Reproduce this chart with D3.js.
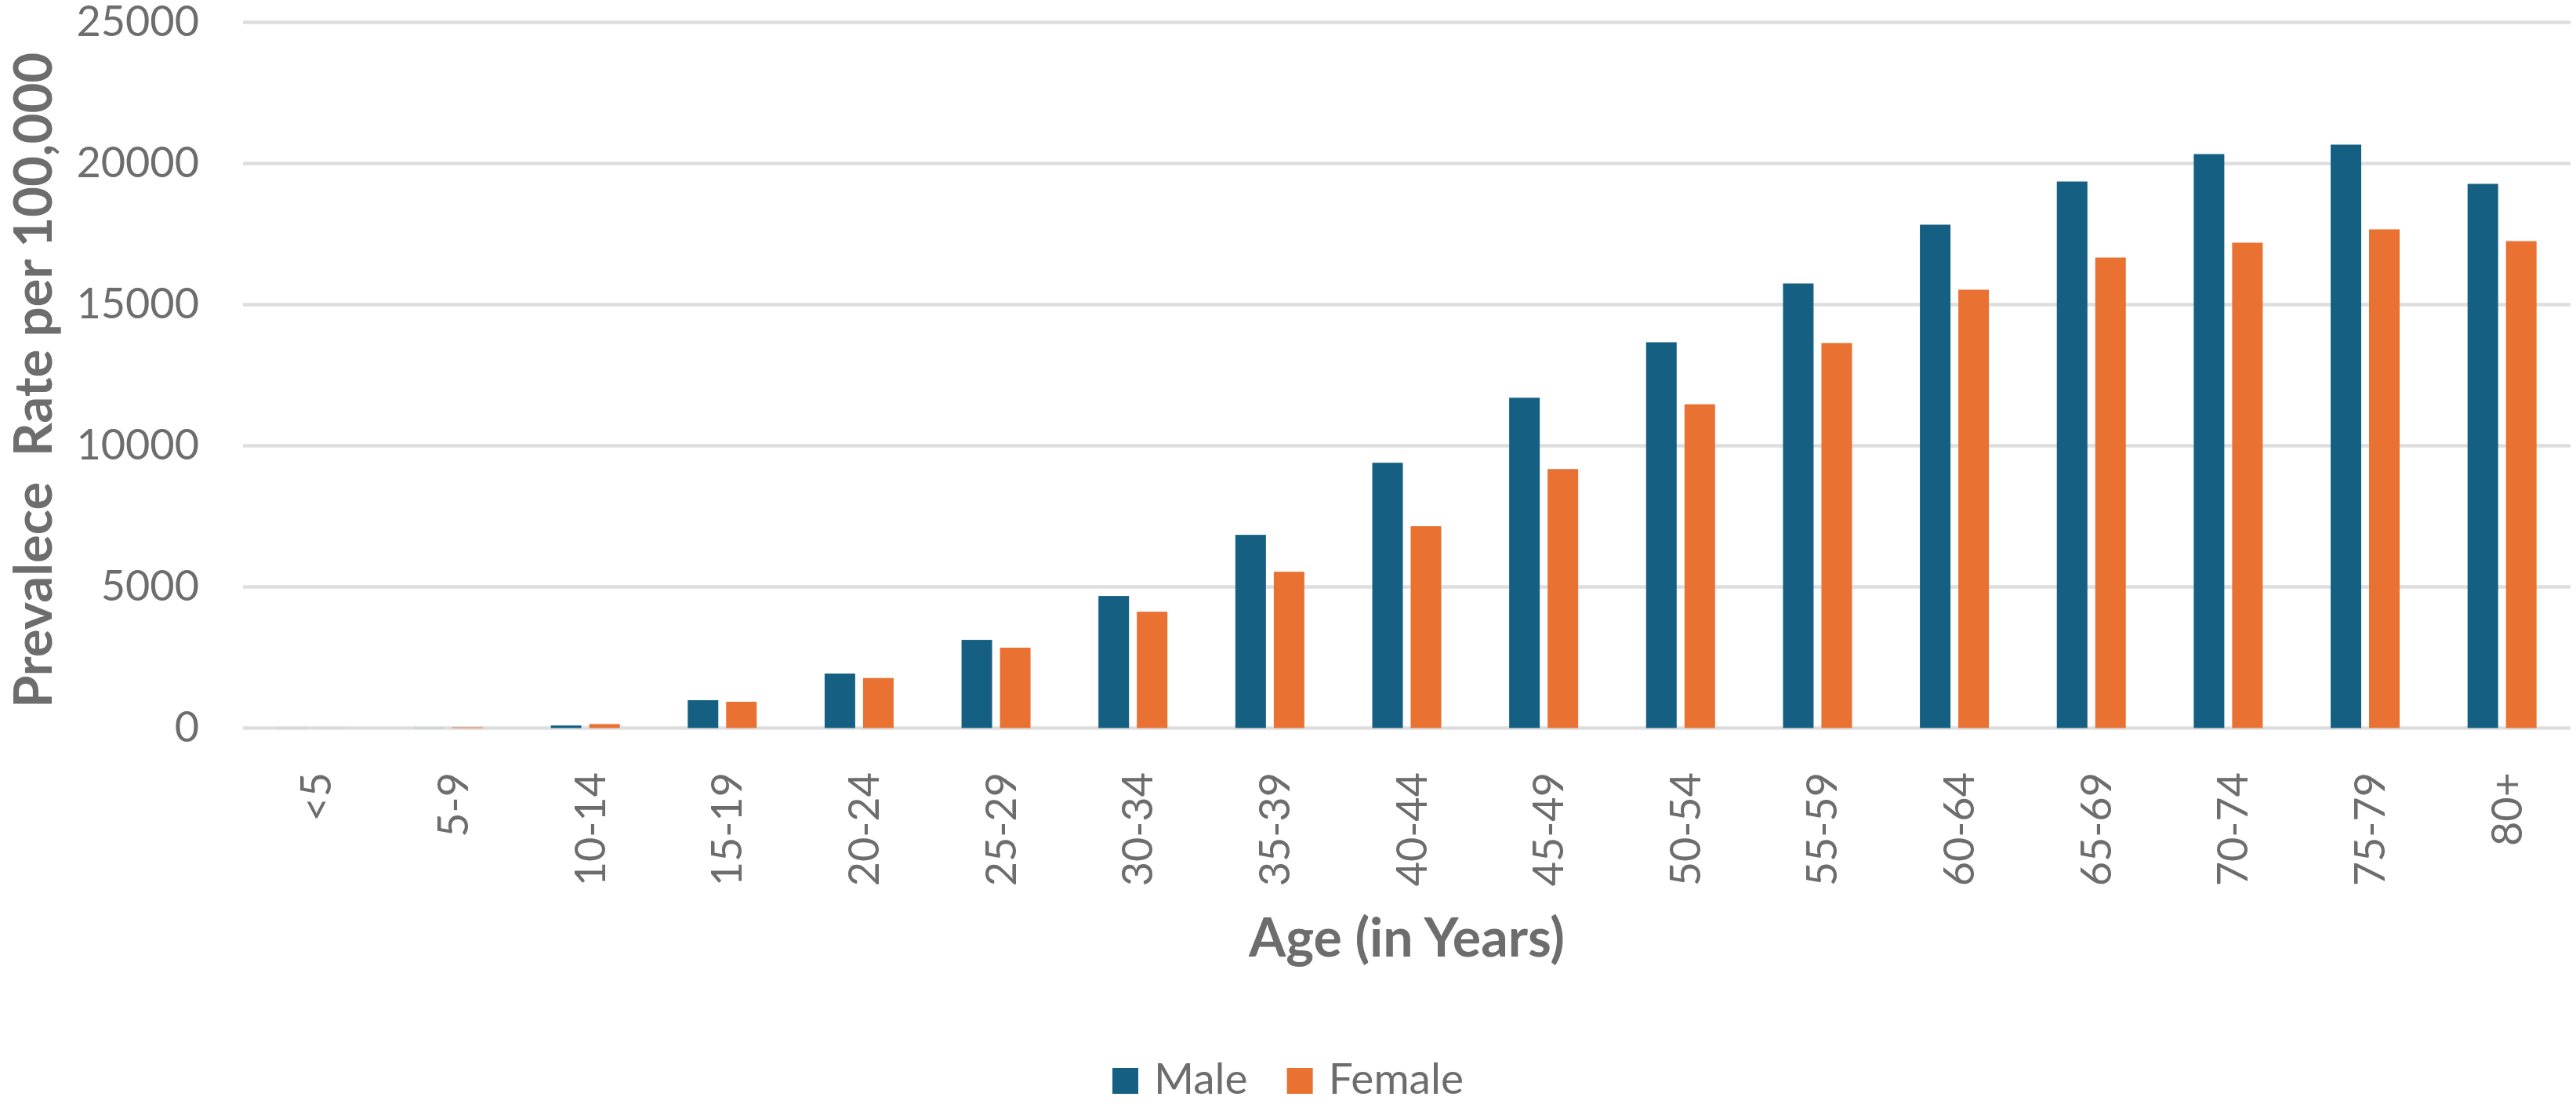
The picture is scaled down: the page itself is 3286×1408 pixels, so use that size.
<!DOCTYPE html>
<html>
<head>
<meta charset="utf-8">
<script src="https://cdn.jsdelivr.net/npm/d3@7"></script>
<style>
  body { margin: 0; background: #fff; }
  text { font-family: Lato, "Open Sans", sans-serif; fill: #6d6d6d; }
</style>
</head>
<body>
<div class="canvas"></div>
<script>
// data
const ageGroups = ['<5', '5-9', '10-14', '15-19', '20-24', '25-29', '30-34', '35-39',
  '40-44', '45-49', '50-54', '55-59', '60-64', '65-69', '70-74', '75-79', '80+'];
const seriesNames = ['Male', 'Female'];
const maleRates = [3, 6, 90, 986, 1930, 3123, 4678, 6844, 9398, 11702, 13667, 15750,
  17833, 19361, 20333, 20667, 19278];
const femaleRates = [3, 25, 140, 930, 1772, 2846, 4122, 5538, 7149, 9175, 11470, 13640,
  15528, 16667, 17194, 17667, 17250];
const yTicks = [0, 5000, 10000, 15000, 20000, 25000];
const colors = { Male: '#156082', Female: '#e97132' };

const dims = { width: 3286, height: 1408 };
const plot = { left: 310, right: 3279, top: 28.5, bottom: 928.5 };

const svg = d3.select('.canvas')
  .append('svg')
  .attr('width', dims.width)
  .attr('height', dims.height);

// scales
const x0 = d3.scaleBand()
  .domain(ageGroups)
  .range([plot.left, plot.right]);

const x1 = d3.scaleBand()
  .domain(seriesNames)
  .range([0, x0.bandwidth()])
  .paddingInner(0.204)
  .paddingOuter(0.884);

const y = d3.scaleLinear()
  .domain([0, 25000])
  .range([plot.bottom, plot.top]);

// gridlines
svg.append('g')
  .selectAll('line')
  .data(yTicks)
  .enter().append('line')
    .attr('x1', plot.left)
    .attr('x2', plot.right)
    .attr('y1', d => y(d))
    .attr('y2', d => y(d))
    .attr('stroke', '#dedede')
    .attr('stroke-width', 4.5);

// y tick labels
svg.append('g')
  .selectAll('text')
  .data(yTicks)
  .enter().append('text')
    .attr('x', 254)
    .attr('y', d => y(d))
    .attr('dy', '0.33em')
    .attr('text-anchor', 'end')
    .style('font-size', '54px')
    .text(d => d);

// bars
const rows = ageGroups.map((g, i) => ({ group: g, Male: maleRates[i], Female: femaleRates[i] }));

const groups = svg.append('g')
  .selectAll('g')
  .data(rows)
  .enter().append('g')
    .attr('transform', d => `translate(${x0(d.group)}, 0)`);

groups.selectAll('rect')
  .data(d => seriesNames.map(s => ({ key: s, value: d[s] })))
  .enter().append('rect')
    .attr('x', d => x1(d.key))
    .attr('y', d => y(d.value))
    .attr('width', x1.bandwidth())
    .attr('height', d => y(0) - y(d.value))
    .attr('fill', d => colors[d.key]);

// x tick labels (rotated)
svg.append('g')
  .selectAll('text')
  .data(ageGroups)
  .enter().append('text')
    .attr('transform', d => `translate(${x0(d) + x0.bandwidth() / 2 + 25}, 985) rotate(-90)`)
    .attr('text-anchor', 'end')
    .style('font-size', '54px')
    .text(d => d);

// axis titles
svg.append('text')
  .attr('x', (plot.left + plot.right) / 2)
  .attr('y', 1220)
  .attr('text-anchor', 'middle')
  .style('font-size', '68px')
  .style('font-weight', 'bold')
  .text('Age (in Years)');

svg.append('text')
  .attr('transform', 'translate(66, 485) rotate(-90)')
  .attr('text-anchor', 'middle')
  .style('font-size', '67px')
  .style('font-weight', 'bold')
  .style('white-space', 'pre')
  .text('Prevalece  Rate per 100,000');

// legend
const legend = svg.append('g');
let lx = 0;
seriesNames.forEach((s, i) => {
  const item = legend.append('g').attr('transform', `translate(${lx}, 0)`);
  item.append('rect')
    .attr('x', 0)
    .attr('y', 1362)
    .attr('width', 33)
    .attr('height', 33)
    .attr('fill', colors[s]);
  const t = item.append('text')
    .attr('x', 53)
    .attr('y', 1395)
    .style('font-size', '55px')
    .text(s);
  lx += 53 + t.node().getComputedTextLength() + 50;
});
const legendWidth = lx - 50;
legend.attr('transform', `translate(${dims.width / 2 - legendWidth / 2}, 0)`);
</script>
</body>
</html>
